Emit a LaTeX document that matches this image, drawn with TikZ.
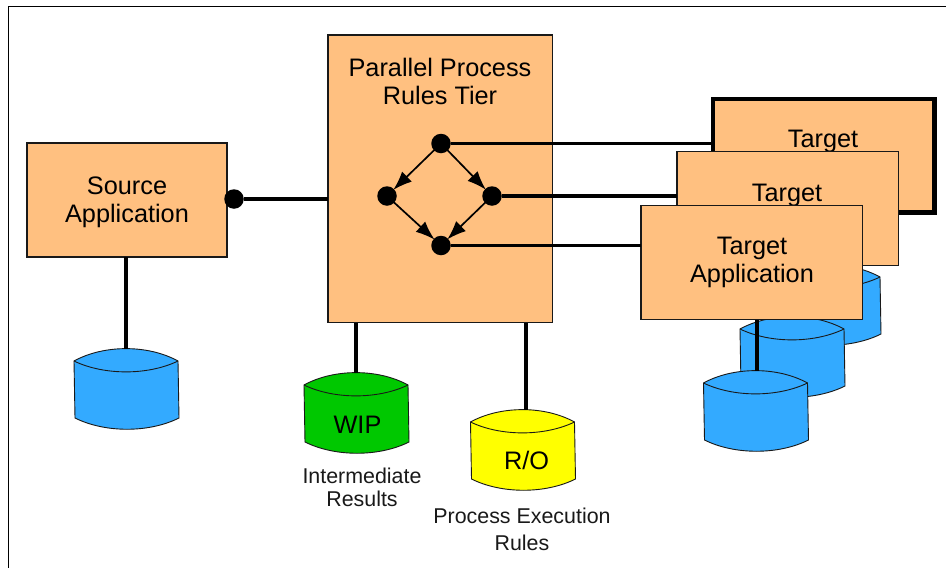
\documentclass[tikz,border=0pt]{standalone}
\usepackage{fontspec}
\setmainfont{Liberation Sans}
\usetikzlibrary{arrows.meta}
\definecolor{boxfill}{HTML}{FFC080}
\definecolor{dbblue}{HTML}{33AAFF}
\definecolor{dbgreen}{HTML}{00C800}
\definecolor{dbyellow}{HTML}{FFFF00}
\tikzset{
  box/.style={draw=black!90,line width=1.4pt,fill=boxfill,inner sep=0pt,outer sep=0pt,anchor=north west},
  lab/.style={font=\fontsize{25.3}{28}\selectfont,align=center,text=black,inner sep=0pt},
  captext/.style={font=\fontsize{21.4}{23.5}\selectfont,align=center,text=black!90,inner sep=0pt},
  dot/.style={circle,fill=black,minimum width=19.5pt,inner sep=0pt,outer sep=0pt},
  wire/.style={line width=3.2pt,black},
  arr/.style={line width=1.7pt,black,-{Latex[length=19pt,width=14pt]},shorten >=-1pt,shorten <=-1pt},
  cyl/.style={draw=black!90,line width=.9pt},
  anchorpt/.style={inner sep=0pt,outer sep=0pt,minimum size=0pt}
}
% name, left x, side y, fill
\newcommand{\dbcyl}[4]{%
  \path[cyl,fill=#4] (#2,#3)
    .. controls (#2+30,#3-16.5) and (#2+74,#3-16.5) .. (#2+104,#3)
    -- (#2+105,#3+57)
    .. controls (#2+75,#3+72) and (#2+31,#3+72) .. (#2+1,#3+57) -- cycle;
  \path[cyl] (#2,#3) .. controls (#2+30,#3+14.5) and (#2+74,#3+14.5) .. (#2+104,#3);
  \node[anchorpt] (#1) at (#2+52,#3-12.4) {};
}
\begin{document}
\begin{tikzpicture}[x=1pt,y=-1pt]
\useasboundingbox (0,0) rectangle (946,568);
\fill[white] (0,0) rectangle (946,568);
\draw[line width=1.3pt,black] (8.5,568) -- (8.5,6.5) -- (946,6.5);

% targets: back to front
\node[box,draw=black,line width=4.6pt,minimum width=221.5pt,minimum height=113.5pt] (t1) at (713,99) {};
\node[lab] (t1l) at (823,141.5) {Target};
\dbcyl{d3}{776}{277}{dbblue}
\node[box,minimum width=221.5pt,minimum height=114pt] (t2) at (677,151.7) {};
\node[lab] (t2l) at (787,195.5) {Target};
\dbcyl{d2}{740}{329}{dbblue}
\dbcyl{d1}{703.5}{383}{dbblue}
\coordinate (t3foot) at (757,319);
\coordinate (d1top) at (757,370.8);
\draw[wire] (t3foot) -- (d1top);
\node[box,minimum width=221.5pt,minimum height=113.6pt] (t3) at (641,205.7) {};
\node[lab] (t3l) at (752,262.5) {Target\\Application};

% source
\node[box,minimum width=200pt,minimum height=114pt] (src) at (27,143) {};
\node[lab] (srcl) at (127,202) {Source\\Application};
\dbcyl{d0}{74}{361}{dbblue}
\coordinate (srcfoot) at (d0|-src.south);
\draw[wire] (srcfoot) -- (d0);

% tier
\node[box,minimum width=224.5pt,minimum height=287.7pt] (tier) at (328,35) {};
\node[lab] (tierl) at (440,81.5) {Parallel Process\\Rules Tier};

\dbcyl{wip}{304}{385}{dbgreen}
\dbcyl{ro}{470.5}{422}{dbyellow}
\coordinate (wipfoot) at (wip|-tier.south);
\coordinate (rofoot) at (526,323);
\coordinate (rotop) at (526,409.8);
\draw[wire] (wipfoot) -- (wip);
\draw[wire] (rofoot) -- (rotop);
\node[lab] (wipl) at (357.5,424.5) {WIP};
\node[lab] (rol) at (526.5,460.5) {R/O};
\node[captext] (c1) at (362,487.5) {Intermediate\\Results};
\node[captext,font=\fontsize{21.4}{27}\selectfont] (c2) at (522,529) {Process Execution\\Rules};

% dots
\node[dot] (ds) at (234,199) {};
\node[dot] (n1) at (441,143.5) {};
\node[dot] (n2) at (387,196) {};
\node[dot] (n3) at (492,196) {};
\node[dot] (n4) at (441,245.5) {};

\draw[wire] (ds) -- (ds-|tier.west);
\draw[wire] (n1) -- (n1-|t1.west);
\draw[wire] (n3) -- (n3-|t2.west);
\draw[wire] (n4) -- (n4-|t3.west);
\draw[arr] (n1) -- (n2);
\draw[arr] (n1) -- (n3);
\draw[arr] (n2) -- (n4);
\draw[arr] (n3) -- (n4);
\end{tikzpicture}
\end{document}
